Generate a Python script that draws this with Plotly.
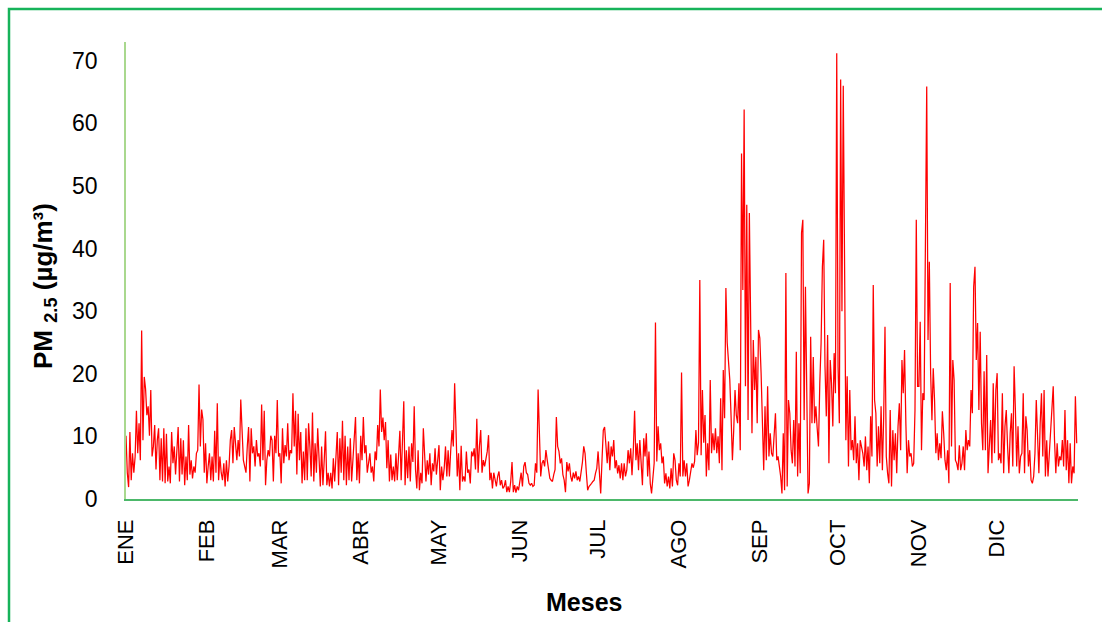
import pandas as pd
import plotly.graph_objects as go

# PM2.5 concentration, two readings per day (00h and 12h), one list per month
ene = [10.1, 4.2, 1.9, 10.7, 3.0, 7.3, 4.2, 6.8, 14.1, 7.3, 12.1, 6.2, 26.9, 9.4, 19.5, 17.6,
       13.4, 14.8, 10.1, 17.4, 6.8, 8.4, 11.8, 4.7, 9.4, 11.3, 3.0, 9.7, 2.8, 11.3, 2.5, 10.4,
       2.8, 5.2, 2.5, 10.7, 5.7, 8.4, 3.9, 8.1, 11.5, 2.8, 9.7, 3.9, 9.4, 2.2, 6.8, 3.0,
       11.8, 3.9, 6.2, 3.3, 5.2, 4.2, 7.3, 7.8, 18.3, 8.4, 14.3, 12.7, 4.2, 8.9]
feb = [2.5, 5.2, 7.3, 3.0, 6.8, 2.8, 10.9, 4.2, 15.3, 3.0, 6.8, 4.2, 3.0, 5.7, 2.0, 6.2,
       2.8, 5.2, 9.4, 11.0, 5.7, 11.5, 7.8, 6.2, 9.4, 6.8, 15.9, 11.3, 6.2, 5.2, 4.2, 8.4,
       11.5, 2.8, 11.3, 7.3, 8.4, 5.2, 9.4, 6.8, 7.3, 5.2, 15.1, 6.2, 14.1, 2.2, 6.2, 7.8,
       6.8, 10.1, 9.4, 2.8, 10.1, 7.3, 15.8, 6.8]
mar = [7.3, 2.5, 11.3, 5.7, 8.6, 6.8, 12.1, 6.2, 7.8, 7.3, 16.9, 8.4, 14.1, 3.9, 13.6, 6.2,
       10.7, 2.5, 7.6, 3.0, 11.3, 3.0, 12.1, 8.4, 3.6, 13.8, 2.8, 8.9, 4.2, 11.3, 5.7, 2.0,
       8.4, 2.2, 6.2, 10.8, 2.2, 4.2, 2.0, 4.2, 1.7, 6.5, 2.8, 7.8, 10.7, 2.2, 9.7, 4.2,
       12.5, 3.0, 10.1, 2.2, 8.4, 3.0, 9.7, 2.8, 6.8, 11.3, 13.1, 3.0, 7.3, 2.5]
abr = [10.1, 6.2, 13.1, 7.3, 8.6, 4.2, 5.4, 7.3, 4.2, 5.2, 2.8, 7.6, 6.2, 11.8, 8.4, 17.5,
       10.7, 13.0, 9.4, 12.3, 4.9, 9.4, 2.8, 7.1, 3.0, 5.2, 2.8, 7.3, 3.0, 7.6, 10.9, 3.0,
       10.4, 15.6, 2.2, 7.8, 3.3, 8.4, 2.8, 8.9, 5.9, 14.8, 4.7, 1.7, 7.8, 1.4, 4.2, 2.5,
       11.3, 7.3, 2.8, 6.2, 3.9, 7.3, 2.2, 5.7, 4.4, 8.1, 3.9, 6.2]
may = [8.6, 1.4, 5.2, 3.0, 4.9, 8.4, 3.6, 7.8, 3.6, 7.8, 11.0, 8.4, 18.5, 11.5, 3.6, 7.3,
       1.4, 8.5, 2.8, 3.6, 2.8, 7.6, 4.2, 4.7, 2.5, 7.6, 6.8, 8.1, 4.7, 12.8, 4.2, 8.4,
       11.0, 4.2, 6.2, 5.2, 6.2, 7.6, 10.2, 3.0, 4.2, 1.7, 4.2, 3.0, 2.0, 3.6, 4.4, 2.2,
       3.0, 1.7, 2.0, 3.0, 1.1, 2.0, 1.1, 2.8, 5.9, 1.1, 2.2, 1.0, 2.0, 1.4]
jun = [3.0, 4.2, 2.0, 5.2, 5.9, 4.2, 3.9, 2.5, 2.2, 2.5, 2.0, 2.2, 5.7, 4.2, 17.5, 9.4,
       3.6, 5.7, 6.2, 5.2, 7.8, 6.2, 4.2, 3.3, 3.0, 2.8, 3.9, 4.7, 13.1, 8.4, 7.6, 5.7,
       6.5, 3.9, 3.0, 1.1, 5.9, 4.4, 5.7, 3.6, 2.8, 4.2, 3.3, 4.4, 3.0, 3.6, 2.8, 4.2,
       5.9, 8.4, 7.3, 4.2, 1.4, 2.0, 2.2, 2.5, 2.8, 3.0, 4.1, 4.9]
jul = [7.6, 3.6, 0.9, 6.2, 11.0, 11.5, 8.9, 5.7, 9.2, 4.6, 8.4, 6.8, 9.4, 4.9, 6.2, 4.1,
       5.4, 3.3, 5.7, 3.0, 5.7, 3.6, 4.6, 7.8, 5.7, 8.1, 3.8, 7.8, 14.1, 6.2, 8.9, 4.6,
       9.4, 5.7, 2.2, 9.7, 6.8, 10.5, 3.6, 7.6, 2.5, 0.9, 3.3, 5.7, 28.2, 6.0, 11.6, 7.8,
       8.9, 5.7, 6.8, 2.5, 4.1, 2.0, 3.6, 1.7, 4.9, 2.0, 7.3, 6.2, 3.0, 2.2]
ago = [5.7, 3.6, 20.2, 3.6, 6.2, 3.6, 5.7, 2.0, 3.0, 4.1, 5.7, 5.0, 6.0, 11.0, 7.0, 9.0,
       35.0, 7.0, 17.4, 9.0, 13.4, 3.6, 8.9, 4.6, 19.0, 7.3, 10.5, 7.8, 11.3, 7.3, 10.0, 5.7,
       16.1, 4.6, 20.6, 12.9, 33.7, 25.0, 21.5, 19.0, 13.0, 6.2, 11.0, 17.4, 13.4, 12.1, 18.5, 7.8,
       55.2, 33.4, 62.2, 18.0, 47.0, 12.6, 45.7, 24.9, 10.5, 25.4, 17.4, 22.7, 12.1, 27.0]
sep = [25.7, 20.1, 10.0, 4.6, 14.8, 6.2, 18.0, 6.8, 10.5, 7.3, 6.8, 10.0, 13.7, 6.2, 6.8, 5.2,
       3.6, 0.9, 10.5, 1.4, 36.1, 2.0, 15.8, 13.7, 7.8, 5.7, 12.6, 5.2, 23.5, 3.6, 12.1, 4.1,
       42.5, 44.6, 12.6, 33.9, 18.5, 0.9, 2.5, 25.9, 12.1, 22.7, 12.1, 14.8, 11.3, 8.4, 18.5, 24.9,
       37.1, 41.4, 21.2, 13.2, 26.2, 5.7, 22.2, 18.5, 11.6, 23.3, 16.9, 71.2]
oct_ = [21.2, 12.1, 67.0, 30.0, 66.0, 28.0, 9.4, 19.6, 5.2, 17.4, 7.8, 9.4, 6.2, 13.2, 5.7, 8.9,
        3.0, 9.4, 8.4, 7.3, 5.2, 10.0, 4.6, 8.4, 2.5, 13.2, 6.8, 34.2, 15.8, 13.7, 5.2, 11.6,
        5.7, 14.8, 4.6, 13.2, 27.5, 6.8, 4.1, 2.5, 14.2, 2.0, 11.0, 6.2, 10.5, 4.1, 11.6, 15.3,
        7.8, 22.2, 16.9, 23.8, 12.1, 4.1, 9.4, 6.8, 7.3, 5.2, 5.7, 14.2, 44.6, 18.0]
nov = [18.0, 28.3, 7.8, 16.9, 15.8, 38.7, 65.9, 25.4, 37.9, 20.1, 12.6, 20.9, 15.8, 7.3, 10.5, 6.2,
       8.9, 6.5, 14.0, 10.5, 6.2, 4.6, 7.8, 2.5, 34.5, 8.4, 22.2, 19.0, 6.2, 5.7, 4.6, 8.6,
       4.6, 5.7, 8.4, 4.6, 11.0, 7.8, 9.4, 8.4, 17.4, 13.7, 33.9, 37.1, 22.2, 28.1, 14.2, 26.7,
       12.1, 7.8, 20.4, 7.8, 23.0, 4.1, 8.4, 12.6, 5.7, 18.5, 7.3, 17.4]
dic = [20.1, 6.2, 7.3, 5.7, 16.9, 4.1, 11.6, 14.2, 8.4, 4.1, 10.5, 13.7, 5.2, 21.2, 14.2, 5.2,
       11.6, 4.1, 6.8, 7.3, 16.9, 4.1, 13.2, 11.0, 5.2, 7.8, 3.0, 2.5, 3.6, 7.3, 15.8, 11.0,
       4.1, 12.1, 16.9, 6.8, 17.4, 3.6, 9.4, 3.6, 6.8, 11.0, 14.8, 18.0, 9.4, 4.1, 8.9, 5.2,
       6.8, 6.2, 9.4, 5.2, 14.2, 4.6, 9.4, 2.5, 8.9, 2.5, 5.2, 4.1, 16.4, 8.9]

month_labels = ["ENE", "FEB", "MAR", "ABR", "MAY", "JUN",
                "JUL", "AGO", "SEP", "OCT", "NOV", "DIC"]
year = 2019

pm25 = ene + feb + mar + abr + may + jun + jul + ago + sep + oct_ + nov + dic
times = pd.date_range(f"{year}-01-01", periods=len(pm25), freq="12h")
month_starts = pd.date_range(f"{year}-01-01", periods=12, freq="MS")

FONT = "Liberation Sans, Arial, sans-serif"

fig = go.Figure()
fig.add_trace(go.Scatter(
    x=times, y=pm25, mode="lines",
    line=dict(color="#ff0000", width=1.25),
    showlegend=False, hoverinfo="skip",
))

fig.update_layout(
    width=1102, height=622,
    margin=dict(l=126, r=24, t=42, b=123),
    paper_bgcolor="white", plot_bgcolor="white",
    font=dict(family=FONT, color="black"),
    xaxis=dict(
        type="date",
        range=[f"{year}-01-01", f"{year + 1}-01-01"],
        tickmode="array", tickvals=month_starts, ticktext=month_labels,
        tickangle=-90, tickfont=dict(size=22, family=FONT),
        ticks="", ticklabelstandoff=10,
        showgrid=False, zeroline=False,
        showline=True, linecolor="#4cb86a", linewidth=1.5,
    ),
    yaxis=dict(
        range=[0, 73],
        tickmode="array", tickvals=list(range(0, 71, 10)),
        tickfont=dict(size=23, family=FONT),
        ticks="", ticklabelstandoff=22,
        showgrid=False, zeroline=False,
        showline=True, linecolor="#a9d88e", linewidth=1.5,
    ),
)

# axis titles
fig.add_annotation(
    text="<b>PM <sub>2.5</sub> (µg/m³)</b>",
    xref="paper", yref="paper", x=(44 - 126) / 952, y=(499 - 286) / 457,
    xanchor="center", yanchor="middle", textangle=-90, showarrow=False,
    font=dict(size=26, family=FONT, color="black"),
)
fig.add_annotation(
    text="<b>Meses</b>",
    xref="paper", yref="paper", x=(584 - 126) / 952, y=(499 - 602) / 457,
    xanchor="center", yanchor="middle", showarrow=False,
    font=dict(size=25, family=FONT, color="black"),
)

# green frame around the figure
fig.add_shape(
    type="rect", xref="paper", yref="paper",
    x0=(9 - 126) / 952, x1=(1120 - 126) / 952,
    y0=(499 - 640) / 457, y1=(499 - 9) / 457,
    line=dict(color="#17b35a", width=2.5), fillcolor="rgba(0,0,0,0)",
    layer="below",
)

fig.write_html("out.html")
